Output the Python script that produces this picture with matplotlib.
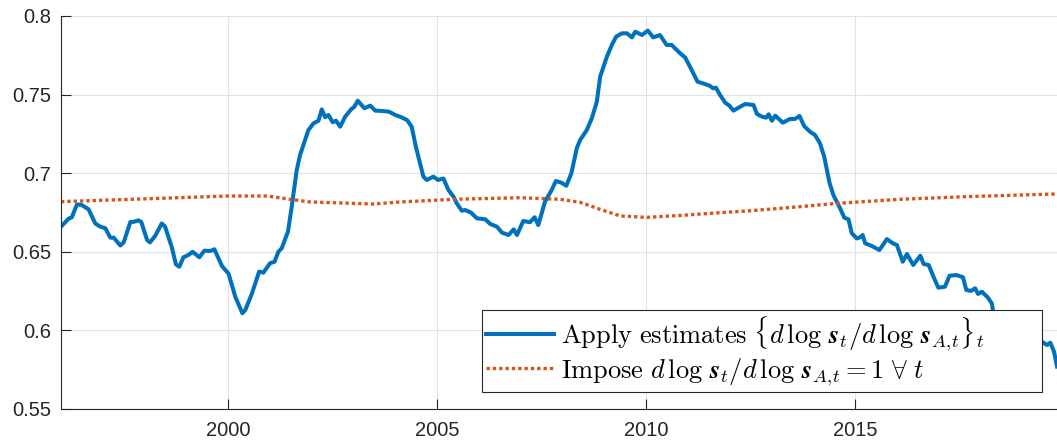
import matplotlib
matplotlib.use('Agg')
import matplotlib.pyplot as plt
import numpy as np

plt.rcParams['font.family'] = 'Liberation Sans'
plt.rcParams['mathtext.fontset'] = 'cm'

# blue series (year, value)
est_year = [1996.00, 1996.18, 1996.26, 1996.38, 1996.48, 1996.66, 1996.82, 1996.94,
            1997.06, 1997.18, 1997.26, 1997.42, 1997.50, 1997.66, 1997.73, 1997.85,
            1997.92, 1998.06, 1998.13, 1998.25, 1998.41, 1998.49, 1998.65, 1998.75,
            1998.83, 1998.93, 1999.05, 1999.15, 1999.31, 1999.43, 1999.57, 1999.67,
            1999.85, 2000.01, 2000.17, 2000.34, 2000.41, 2000.57, 2000.74, 2000.84,
            2001.00, 2001.11, 2001.20, 2001.28, 2001.43, 2001.52, 2001.64, 2001.72,
            2001.84, 2001.92, 2002.04, 2002.16, 2002.24, 2002.32, 2002.40, 2002.50,
            2002.58, 2002.68, 2002.80, 2002.94, 2003.02, 2003.10, 2003.26, 2003.40,
            2003.52, 2003.68, 2003.85, 2004.00, 2004.11, 2004.28, 2004.39, 2004.49,
            2004.59, 2004.67, 2004.75, 2004.91, 2005.02, 2005.15, 2005.27, 2005.39,
            2005.47, 2005.59, 2005.67, 2005.81, 2005.95, 2006.15, 2006.27, 2006.43,
            2006.55, 2006.71, 2006.83, 2006.91, 2007.06, 2007.22, 2007.33, 2007.42,
            2007.58, 2007.74, 2007.84, 2007.97, 2008.09, 2008.21, 2008.34, 2008.42,
            2008.58, 2008.70, 2008.82, 2008.90, 2009.06, 2009.18, 2009.28, 2009.42,
            2009.54, 2009.66, 2009.74, 2009.90, 2010.04, 2010.17, 2010.33, 2010.49,
            2010.61, 2010.81, 2010.93, 2011.05, 2011.23, 2011.41, 2011.53, 2011.60,
            2011.67, 2011.77, 2011.89, 2011.99, 2012.09, 2012.25, 2012.37, 2012.57,
            2012.65, 2012.77, 2012.87, 2012.93, 2013.01, 2013.09, 2013.27, 2013.44,
            2013.56, 2013.67, 2013.78, 2013.92, 2014.04, 2014.16, 2014.26, 2014.39,
            2014.48, 2014.64, 2014.74, 2014.84, 2014.92, 2015.04, 2015.12, 2015.18,
            2015.24, 2015.40, 2015.58, 2015.76, 2015.90, 2016.00, 2016.14, 2016.24,
            2016.39, 2016.56, 2016.64, 2016.76, 2016.88, 2016.99, 2017.15, 2017.26,
            2017.43, 2017.58, 2017.66, 2017.77, 2017.87, 2017.94, 2018.03, 2018.17,
            2018.27, 2018.31, 2018.59, 2019.07, 2019.47, 2019.59, 2019.67, 2019.76,
            2019.83]
est_value = [0.666, 0.671, 0.672, 0.680, 0.680, 0.677, 0.668, 0.666,
             0.665, 0.659, 0.659, 0.654, 0.656, 0.669, 0.669, 0.670,
             0.669, 0.6575, 0.656, 0.660, 0.668, 0.666, 0.653, 0.642,
             0.6405, 0.6465, 0.648, 0.650, 0.6465, 0.6507, 0.6505, 0.6516,
             0.641, 0.636, 0.6214, 0.6109, 0.613, 0.6236, 0.6374, 0.6367,
             0.6427, 0.6437, 0.650, 0.6522, 0.6628, 0.6787, 0.702, 0.7116,
             0.7211, 0.7275, 0.7317, 0.7334, 0.7406, 0.7356, 0.737, 0.7324,
             0.7334, 0.7296, 0.736, 0.7406, 0.7423, 0.7461, 0.7413, 0.743,
             0.7398, 0.7396, 0.7391, 0.737, 0.736, 0.7338, 0.7296, 0.7169,
             0.7063, 0.6978, 0.6957, 0.6978, 0.6957, 0.6966, 0.6893, 0.6851,
             0.6808, 0.6761, 0.6766, 0.6749, 0.6713, 0.6707, 0.6677, 0.666,
             0.6622, 0.6607, 0.6643, 0.6607, 0.6696, 0.6688, 0.672, 0.667,
             0.6819, 0.6893, 0.695, 0.694, 0.692, 0.6999, 0.7158, 0.7211,
             0.7275, 0.7349, 0.7455, 0.7614, 0.7741, 0.7816, 0.7868, 0.789,
             0.789, 0.7864, 0.790, 0.7879, 0.7907, 0.7864, 0.7879, 0.7816,
             0.7816, 0.7763, 0.7737, 0.7677, 0.7582, 0.7567, 0.7555, 0.754,
             0.7544, 0.7497, 0.7449, 0.743, 0.7398, 0.7423, 0.744, 0.7434,
             0.7377, 0.736, 0.7353, 0.7375, 0.7334, 0.7366, 0.7321, 0.7345,
             0.7345, 0.7364, 0.730, 0.7264, 0.7243, 0.719, 0.7105, 0.6936,
             0.6861, 0.6777, 0.6717, 0.6707, 0.6618, 0.6585, 0.6592, 0.6607,
             0.6554, 0.6537, 0.6511, 0.6581, 0.6554, 0.6543, 0.6437, 0.6486,
             0.6416, 0.6475, 0.6422, 0.6416, 0.6338, 0.6272, 0.6278, 0.6348,
             0.6352, 0.6338, 0.6257, 0.6251, 0.6268, 0.6232, 0.6246, 0.6211,
             0.6172, 0.6109, 0.603, 0.596, 0.5928, 0.5907, 0.5922, 0.5864,
             0.577]

# orange series: constant elasticity counterfactual
imp_year = [1996.00, 1998.13, 2000.00, 2000.93, 2001.48, 2001.96, 2003.47, 2004.11,
            2004.59, 2005.38, 2006.99, 2007.94, 2008.42, 2008.90, 2009.38, 2010.02,
            2010.97, 2011.77, 2012.49, 2013.68, 2014.56, 2016.08, 2017.67, 2019.83]
imp_value = [0.6819, 0.6838, 0.6855, 0.6855, 0.6834, 0.6817, 0.6804, 0.6817,
             0.6823, 0.6834, 0.6844, 0.6834, 0.6815, 0.6770, 0.6728, 0.6719,
             0.6734, 0.6749, 0.6761, 0.6787, 0.6808, 0.6834, 0.6851, 0.6868]

xticks = [2000, 2005, 2010, 2015]
yticks = [0.55, 0.6, 0.65, 0.7, 0.75, 0.8]
ytick_labels = ['0.55', '0.6', '0.65', '0.7', '0.75', '0.8']

label_est = (r'$\mathrm{Apply\ estimates}\ \{d\,\log\,\boldsymbol{s}_t/d\,\log\,'
             r'\boldsymbol{s}_{A,\!t}\}_t$')
label_imp = (r'$\mathrm{Impose}\ d\,\log\,\boldsymbol{s}_t/d\,\log\,'
             r'\boldsymbol{s}_{A,\!t}=1\ \forall\ t$')

fig = plt.figure(figsize=(10.57, 4.41), dpi=100)
ax = fig.add_axes([61/1057, 1 - 409/441, 996/1057, 393/441])

ax.plot(est_year, est_value, color='#0072BD', lw=2.9, label=label_est, solid_joinstyle='round')
ax.plot(imp_year, imp_value, color='#D95319', lw=2.4, linestyle=(0, (1.0, 0.9)),
        dash_capstyle='butt', label=label_imp)

ax.set_xlim(1996.0, 2019.83)
ax.set_ylim(0.55, 0.8)
ax.set_xticks(xticks)
ax.set_yticks(yticks)
ax.set_yticklabels(ytick_labels)

ax.grid(True, color='#e3e3e3', lw=0.8)
ax.set_axisbelow(True)
for s in ['top', 'right']:
    ax.spines[s].set_visible(False)
for s in ['left', 'bottom']:
    ax.spines[s].set_color('#262626')
    ax.spines[s].set_linewidth(0.8)
ax.tick_params(direction='in', length=7, width=0.8, color='#262626',
               labelsize=14.5, labelcolor='#262626')
ax.tick_params(axis='x', pad=9)
ax.tick_params(axis='y', pad=7)

# box is wider than its text, as in the MATLAB original
leg = ax.legend(loc='lower left', bbox_to_anchor=(0.4227, 0.043, 0.5623, 0.2),
                mode='expand', borderaxespad=0,
                fontsize=19, frameon=True, fancybox=False, framealpha=1,
                edgecolor='#262626', handlelength=2.55, handletextpad=0.28,
                labelspacing=0.12, borderpad=0.17)
leg.get_frame().set_linewidth(0.8)

fig.savefig('out.png', dpi=100)
